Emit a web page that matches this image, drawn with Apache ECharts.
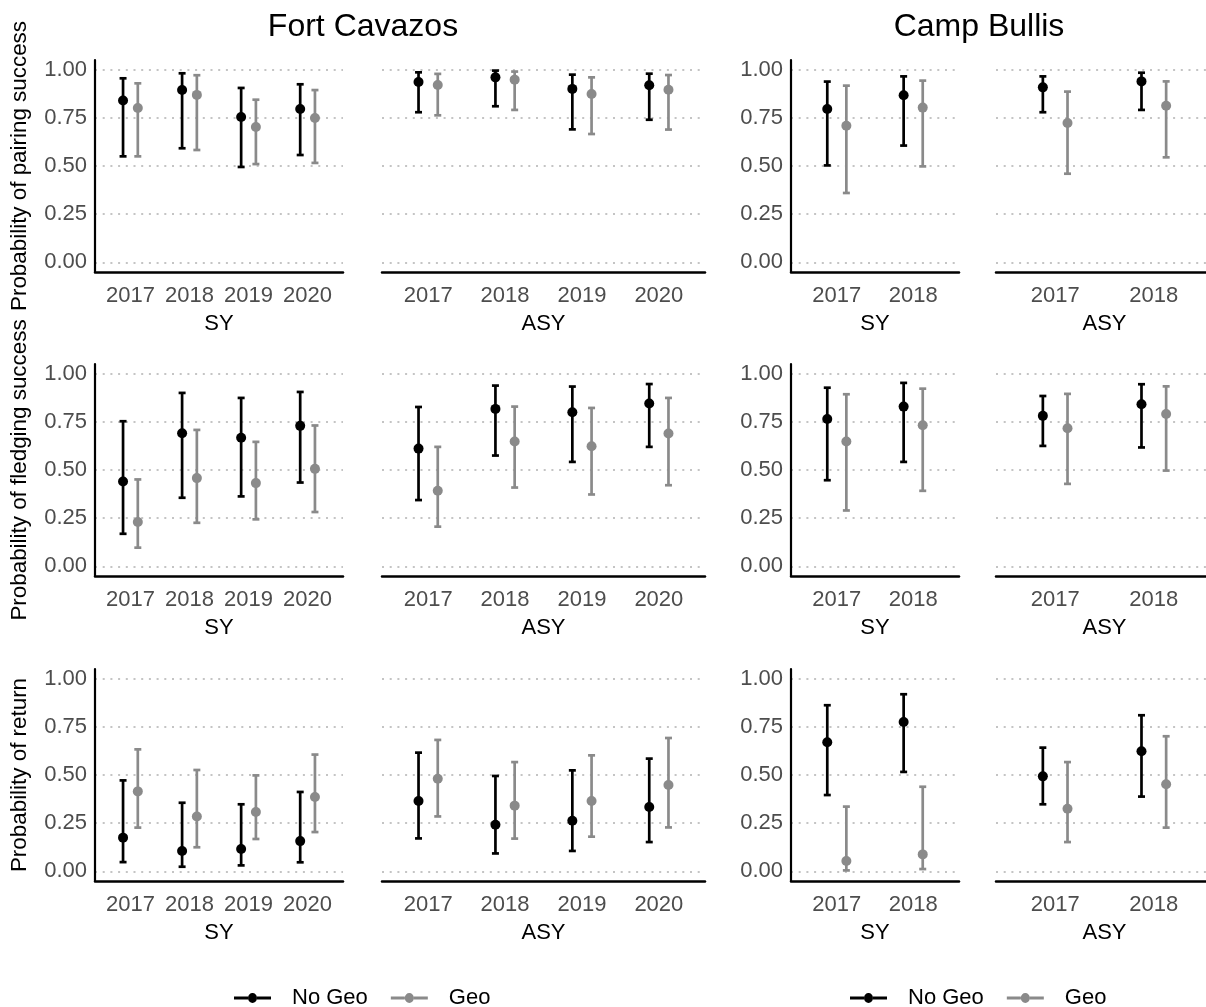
<!DOCTYPE html>
<html>
<head>
<meta charset="utf-8">
<script src="https://cdn.jsdelivr.net/npm/echarts@6/dist/echarts.min.js"></script>
<style>
  html, body { margin: 0; padding: 0; background: #fff; }
  #chart { width: 1206px; height: 1007px; }
</style>
</head>
<body>
<div id="chart"></div>
<script>
// years on each site's x axis
const fcYears = ['2017', '2018', '2019', '2020']
const cbYears = ['2017', '2018']

// every row is [estimate, lower, upper]
// pairing success
const fcPairSyNoGeo = [[0.84, 0.55, 0.955], [0.894, 0.592, 0.981], [0.754, 0.495, 0.905], [0.796, 0.557, 0.924]]
const fcPairSyGeo = [[0.801, 0.55, 0.929], [0.869, 0.583, 0.971], [0.702, 0.51, 0.844], [0.749, 0.516, 0.894]]
const fcPairAsyNoGeo = [[0.936, 0.779, 0.986], [0.96, 0.81, 0.995], [0.9, 0.69, 0.974], [0.919, 0.74, 0.979]]
const fcPairAsyGeo = [[0.92, 0.763, 0.978], [0.948, 0.791, 0.99], [0.874, 0.666, 0.96], [0.896, 0.689, 0.972]]
const cbPairSyNoGeo = [[0.796, 0.503, 0.938], [0.867, 0.606, 0.965]]
const cbPairSyGeo = [[0.709, 0.36, 0.917], [0.803, 0.498, 0.943]]
const cbPairAsyNoGeo = [[0.908, 0.779, 0.965], [0.939, 0.791, 0.984]]
const cbPairAsyGeo = [[0.723, 0.46, 0.886], [0.813, 0.545, 0.939]]

// fledging success
const fcFledgeSyNoGeo = [[0.44, 0.169, 0.753], [0.691, 0.356, 0.9], [0.667, 0.363, 0.874], [0.729, 0.435, 0.905]]
const fcFledgeSyGeo = [[0.23, 0.097, 0.451], [0.458, 0.226, 0.708], [0.432, 0.244, 0.646], [0.506, 0.282, 0.731]]
const fcFledgeAsyNoGeo = [[0.611, 0.344, 0.827], [0.817, 0.575, 0.938], [0.8, 0.542, 0.933], [0.845, 0.62, 0.946]]
const fcFledgeAsyGeo = [[0.392, 0.206, 0.62], [0.648, 0.409, 0.829], [0.623, 0.373, 0.822], [0.689, 0.421, 0.874]]
const cbFledgeSyNoGeo = [[0.765, 0.447, 0.927], [0.829, 0.542, 0.952]]
const cbFledgeSyGeo = [[0.648, 0.29, 0.893], [0.732, 0.392, 0.922]]
const cbFledgeAsyNoGeo = [[0.781, 0.625, 0.884], [0.841, 0.617, 0.945]]
const cbFledgeAsyGeo = [[0.717, 0.428, 0.895], [0.791, 0.497, 0.934]]

// return
const fcReturnSyNoGeo = [[0.175, 0.048, 0.472], [0.106, 0.024, 0.356], [0.116, 0.031, 0.348], [0.157, 0.047, 0.412]]
const fcReturnSyGeo = [[0.415, 0.227, 0.633], [0.285, 0.125, 0.526], [0.308, 0.168, 0.498], [0.386, 0.204, 0.606]]
const fcReturnAsyNoGeo = [[0.365, 0.171, 0.616], [0.242, 0.093, 0.495], [0.263, 0.106, 0.524], [0.334, 0.152, 0.585]]
const fcReturnAsyGeo = [[0.481, 0.285, 0.682], [0.341, 0.17, 0.567], [0.365, 0.18, 0.602], [0.448, 0.228, 0.692]]
const cbReturnSyNoGeo = [[0.67, 0.396, 0.862], [0.775, 0.516, 0.919]]
const cbReturnSyGeo = [[0.054, 0.005, 0.336], [0.088, 0.012, 0.439]]
const cbReturnAsyNoGeo = [[0.493, 0.348, 0.642], [0.623, 0.388, 0.81]]
const cbReturnAsyGeo = [[0.325, 0.152, 0.567], [0.452, 0.227, 0.701]]

const yTicks = [0, 0.25, 0.5, 0.75, 1]
const rowNames = ['Probability of pairing success', 'Probability of fledging success', 'Probability of return']
const ageNames = ['SY', 'ASY', 'SY', 'ASY']
const colYears = [fcYears, fcYears, cbYears, cbYears]

// rows x columns of [noGeo, geo]
const panels = [
  [[fcPairSyNoGeo, fcPairSyGeo], [fcPairAsyNoGeo, fcPairAsyGeo], [cbPairSyNoGeo, cbPairSyGeo], [cbPairAsyNoGeo, cbPairAsyGeo]],
  [[fcFledgeSyNoGeo, fcFledgeSyGeo], [fcFledgeAsyNoGeo, fcFledgeAsyGeo], [cbFledgeSyNoGeo, cbFledgeSyGeo], [cbFledgeAsyNoGeo, cbFledgeAsyGeo]],
  [[fcReturnSyNoGeo, fcReturnSyGeo], [fcReturnAsyNoGeo, fcReturnAsyGeo], [cbReturnSyNoGeo, cbReturnSyGeo], [cbReturnAsyNoGeo, cbReturnAsyGeo]]
]

// layout
const rowTops = [60, 364, 669]
const rowHeight = 212
const cols = [
  { left: 95, width: 248 },
  { left: 382, width: 323 },
  { left: 791, width: 168 },
  { left: 996, width: 217 }
]
const BLACK = '#000000'
const GREY = '#8a8a8a'
const LABEL = '#4d4d4d'
const DODGE = 0.125

// 误差线 + 点
const makeRender = (dodge, color) => (params, api) => {
  const x = api.value(0)
  const unit = api.size([1, 0])[0]
  const dx = dodge * unit
  const pe = api.coord([x, api.value(1)])
  const pl = api.coord([x, api.value(2)])
  const ph = api.coord([x, api.value(3)])
  const cx = pe[0] + dx
  const cap = 3.5
  const st = { stroke: color, lineWidth: 2.7 }
  return {
    type: 'group',
    children: [
      { type: 'line', shape: { x1: cx, y1: pl[1], x2: cx, y2: ph[1] }, style: st },
      { type: 'line', shape: { x1: cx - cap, y1: pl[1], x2: cx + cap, y2: pl[1] }, style: st },
      { type: 'line', shape: { x1: cx - cap, y1: ph[1], x2: cx + cap, y2: ph[1] }, style: st },
      { type: 'circle', shape: { cx: cx, cy: pe[1], r: 5 }, style: { fill: color } }
    ]
  }
}

const grid = []
const xAxis = []
const yAxis = []
const series = []

panels.forEach((row, r) => {
  row.forEach((pair, c) => {
    const idx = grid.length
    const years = colYears[c]
    const showY = c === 0 || c === 2
    grid.push({
      left: cols[c].left,
      top: rowTops[r],
      width: cols[c].width,
      height: rowHeight,
      outerBoundsMode: 'none'
    })
    xAxis.push({
      gridIndex: idx,
      type: 'value',
      min: 0.4,
      max: years.length + 0.6,
      name: ageNames[c],
      nameLocation: 'middle',
      nameGap: 41,
      nameTextStyle: { fontSize: 22, color: '#000' },
      axisLine: { show: true, onZero: false, lineStyle: { color: '#000', width: 2.5 } },
      axisTick: { show: false },
      splitLine: { show: false },
      axisLabel: {
        customValues: years.map((y, i) => i + 1),
        formatter: v => years[Math.round(v) - 1],
        fontSize: 22,
        color: LABEL,
        margin: 13
      }
    })
    yAxis.push({
      gridIndex: idx,
      type: 'value',
      min: -0.05,
      max: 1.05,
      name: c === 0 ? rowNames[r] : '',
      nameLocation: 'middle',
      nameGap: 64,
      nameTextStyle: { fontSize: 22.4, color: '#000' },
      axisLine: { show: showY, onZero: false, lineStyle: { color: '#000', width: 2.2 } },
      axisTick: { show: false, customValues: yTicks },
      axisLabel: {
        show: showY,
        customValues: yTicks,
        formatter: v => v.toFixed(2),
        fontSize: 22,
        color: LABEL,
        margin: 8
      },
      splitLine: {
        show: true,
        lineStyle: { color: '#c4c4c4', width: 2, type: [2, 5.7] }
      }
    })
    const groups = [
      { name: 'No Geo', data: pair[0], dodge: -DODGE, color: BLACK },
      { name: 'Geo', data: pair[1], dodge: DODGE, color: GREY }
    ]
    groups.forEach(g => {
      series.push({
        name: g.name,
        type: 'custom',
        xAxisIndex: idx,
        yAxisIndex: idx,
        itemStyle: { color: g.color },
        encode: { x: 0, y: [1, 2, 3] },
        data: g.data.map((d, i) => [i + 1, d[0], d[1], d[2]]),
        renderItem: makeRender(g.dodge, g.color),
        silent: true
      })
    })
  })
})

// 图例图标：横线 + 圆点
const legendIcon = 'path://M0,3.4 L14,3.4 L14,6.6 L0,6.6 Z M23,3.4 L37,3.4 L37,6.6 L23,6.6 Z M14,5 A4.5,5 0 1,1 23,5 A4.5,5 0 1,1 14,5 Z'
const legendBase = {
  top: 982,
  orient: 'horizontal',
  itemWidth: 37,
  itemHeight: 10,
  itemGap: 23,
  icon: legendIcon,
  data: ['No Geo', 'Geo'],
  selectedMode: false,
  textStyle: { fontSize: 22, color: '#000', padding: [0, 0, 0, 16] }
}

const option = {
  animation: false,
  backgroundColor: '#fff',
  textStyle: { fontFamily: 'Liberation Sans, Arial, sans-serif' },
  title: [
    { text: 'Fort Cavazos', left: 358, top: 6, textAlign: 'center', textStyle: { fontSize: 32, fontWeight: 'normal', color: '#000' } },
    { text: 'Camp Bullis', left: 974, top: 6, textAlign: 'center', textStyle: { fontSize: 32, fontWeight: 'normal', color: '#000' } }
  ],
  legend: [
    Object.assign({}, legendBase, { left: 229 }),
    Object.assign({}, legendBase, { left: 845 })
  ],
  grid: grid,
  xAxis: xAxis,
  yAxis: yAxis,
  series: series
}

const chart = echarts.init(document.getElementById('chart'))
chart.setOption(option)
</script>
</body>
</html>
